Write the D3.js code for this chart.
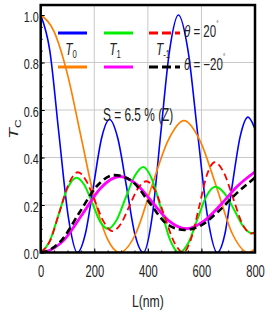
<!DOCTYPE html>
<html>
<head>
<meta charset="utf-8">
<script src="https://cdn.jsdelivr.net/npm/d3@7"></script>
<style>
  body { margin: 0; background: #fff; }
  svg { display: block; font-family: "Liberation Sans", Arial, sans-serif; }
</style>
</head>
<body>
<div id="chart"></div>
<script>
// tick values and labels
const xTicks = [0, 200, 400, 600, 800];
const xTickLabels = ["0", "200", "400", "600", "800"];
const yTicks = [0, 0.2, 0.4, 0.6, 0.8, 1.0];
const yTickLabels = ["0.0", "0.2", "0.4", "0.6", "0.8", "1.0"];
const xGrid = [200, 400, 600];
const yGrid = [0.2, 0.4, 0.6, 0.8];

// theta = 20 deg
const t0Pos = [[0,1.0],[34,0.85],[68,0.5],[103,0.15],[137,0],[167,0.08],[197,0.28],[227,0.48],[257,0.56],[288,0.48],[320,0.28],[351,0.08],[383,0],[416,0.15],[448,0.5],[481,0.85],[514,1.0],[550,0.85],[586,0.5],[623,0.15],[659,0],[688,0.08],[716,0.29],[745,0.49],[774,0.57],[800,0.52]];
const t1Pos = [[0,0],[33,0.046],[66,0.157],[100,0.27],[133,0.315],[163,0.284],[192,0.21],[222,0.13],[251,0.10],[284,0.138],[317,0.23],[350,0.32],[383,0.36],[416,0.307],[450,0.18],[483,0.053],[517,0],[551,0.04],[585,0.14],[618,0.236],[652,0.277],[687,0.248],[722,0.18],[756,0.11],[791,0.08],[800,0.082]];
const tm1Pos = [[0,0],[35,0.05],[70,0.17],[105,0.29],[139,0.338],[171,0.30],[203,0.215],[235,0.13],[267,0.09],[299,0.12],[331,0.195],[363,0.27],[395,0.30],[429,0.256],[463,0.15],[498,0.044],[532,0],[561,0.056],[591,0.19],[620,0.325],[650,0.38],[684,0.336],[718,0.23],[751,0.125],[785,0.08],[800,0.085]];

// theta = -20 deg
const t0Neg = [[0,1.0],[50,0.93],[100,0.75],[150,0.49],[200,0.23],[250,0.055],[295,0],[355,0.08],[415,0.28],[475,0.47],[535,0.555],[595,0.47],[655,0.28],[715,0.08],[775,0],[800,0.015]];
const t1Neg = [[0,0],[20,0.004],[85,0.05],[155,0.16],[225,0.273],[295,0.32],[357,0.288],[418,0.21],[480,0.132],[542,0.10],[606,0.13],[671,0.2],[735,0.28],[800,0.34]];
const tm1Neg = [[0,0],[15,0.003],[77,0.05],[143,0.165],[210,0.28],[276,0.326],[341,0.30],[406,0.21],[471,0.12],[536,0.095],[600,0.115],[665,0.175],[732,0.25],[800,0.315]];

const series = [
  { data: t0Pos, color: "#0000ff", width: 1.6, dash: null },
  { data: t0Neg, color: "#ff8000", width: 1.7, dash: null },
  { data: t1Pos, color: "#00ee00", width: 2, dash: null },
  { data: t1Neg, color: "#ff00ff", width: 2.8, dash: null },
  { data: tm1Pos, color: "#ff0000", width: 1.8, dash: "7,4" },
  { data: tm1Neg, color: "#000000", width: 2.6, dash: "7,4" },
];

const W = 272, H = 314;
const svg = d3.select("#chart").append("svg").attr("width", W).attr("height", H);
svg.append("rect").attr("width", W).attr("height", H).attr("fill", "#fff");

const x = d3.scaleLinear().domain([0, 800]).range([40.7, 255]);
const y = d3.scaleLinear().domain([0, 1]).range([252.5, 15]);
const frameTop = y(1.042);

// grid
svg.append("g").selectAll("line").data(xGrid).enter().append("line")
  .attr("x1", d => x(d)).attr("x2", d => x(d)).attr("y1", y(0)).attr("y2", frameTop)
  .attr("stroke", "#c8c8c8").attr("stroke-width", 1);
svg.append("g").selectAll("line").data(yGrid).enter().append("line")
  .attr("x1", x(0)).attr("x2", x(800)).attr("y1", d => y(d)).attr("y2", d => y(d))
  .attr("stroke", "#c8c8c8").attr("stroke-width", 1);

// clip to frame
svg.append("clipPath").attr("id", "plot-clip").append("rect")
  .attr("x", x(0)).attr("y", frameTop).attr("width", x(800) - x(0)).attr("height", y(0) - frameTop);

const line = d3.line().x(d => x(d[0])).y(d => y(d[1])).curve(d3.curveMonotoneX);
const curves = svg.append("g").attr("clip-path", "url(#plot-clip)");
series.forEach(s => {
  curves.append("path").attr("d", line(s.data)).attr("fill", "none")
    .attr("stroke", s.color).attr("stroke-width", s.width)
    .attr("stroke-dasharray", s.dash);
});

// axes (inward ticks)
const xAxis = svg.append("g").attr("transform", `translate(0,${y(0)})`)
  .call(d3.axisBottom(x).tickValues(xTicks).tickFormat((d, i) => xTickLabels[i]).tickSize(-4));
xAxis.select(".domain").remove();
xAxis.selectAll(".tick text").attr("y", null).attr("dy", null)
  .attr("transform", "translate(0,24) scale(0.7,1)")
  .attr("font-size", 16).attr("font-family", "Liberation Sans, Arial, sans-serif").attr("fill", "#222");
svg.append("g").attr("transform", `translate(0,${y(0)})`)
  .call(d3.axisBottom(x).tickValues(d3.range(0, 801, 50)).tickFormat("").tickSize(-2))
  .select(".domain").remove();

const yAxis = svg.append("g").attr("transform", `translate(${x(0)},0)`)
  .call(d3.axisLeft(y).tickValues(yTicks).tickFormat((d, i) => yTickLabels[i]).tickSize(-4));
yAxis.select(".domain").remove();
yAxis.selectAll(".tick text").attr("x", null).attr("dy", null)
  .attr("transform", "translate(-2,6) scale(0.72,1)")
  .attr("font-size", 15).attr("font-family", "Liberation Sans, Arial, sans-serif").attr("fill", "#222");
svg.append("g").attr("transform", `translate(${x(0)},0)`)
  .call(d3.axisLeft(y).tickValues(d3.range(0, 1.01, 0.05)).tickFormat("").tickSize(-2))
  .select(".domain").remove();

// frame
svg.append("rect").attr("x", x(0)).attr("y", frameTop)
  .attr("width", x(800) - x(0)).attr("height", y(0) - frameTop)
  .attr("fill", "none").attr("stroke", "#000").attr("stroke-width", 2.5);

// axis titles
svg.append("text").attr("transform", `translate(${x(400)},307) scale(0.72,1)`)
  .attr("text-anchor", "middle").attr("font-size", 17).attr("fill", "#222").text("L(nm)");

const yt = svg.append("text").attr("transform", "translate(18,139) rotate(-90) scale(1,0.75)")
  .attr("font-size", 18).attr("fill", "#222");
yt.append("tspan").attr("font-style", "italic").text("T");
yt.append("tspan").attr("font-size", 12).attr("dy", 4).text("C");

// legend
const legendRows = [
  { y: 33, items: [series[0], series[2], series[4]] },
  { y: 67, items: [series[1], series[3], series[5]] },
];
const legendX = [[58, 87], [104, 133], [149, 180]];
legendRows.forEach(row => {
  row.items.forEach((s, i) => {
    svg.append("line").attr("x1", legendX[i][0]).attr("x2", legendX[i][1])
      .attr("y1", row.y).attr("y2", row.y)
      .attr("stroke", s.color).attr("stroke-width", 3)
      .attr("stroke-dasharray", s.dash ? "9,4" : null);
  });
});

const legendNames = [["0", 71], ["1", 115], ["-1", 163]];
legendNames.forEach(([sub, cx]) => {
  const t = svg.append("text").attr("transform", `translate(${cx},55) scale(0.7,1)`)
    .attr("text-anchor", "middle").attr("font-size", 17).attr("fill", "#222");
  t.append("tspan").attr("font-style", "italic").text("T");
  t.append("tspan").attr("font-size", 11).attr("dy", 3).text(sub);
});

const thetaLabels = [["20", 37], ["\u221220", 70]];
thetaLabels.forEach(([v, by]) => {
  const t = svg.append("text").attr("transform", `translate(184,${by}) scale(0.72,1)`)
    .attr("font-size", 16).attr("fill", "#222");
  t.append("tspan").attr("font-style", "italic").text("\u03b8");
  t.append("tspan").text(" = " + v);
  t.append("tspan").attr("font-size", 8).attr("dy", -11).text("\u00b0");
});

// annotation
svg.append("text").attr("transform", "translate(103,121) scale(0.66,1)")
  .attr("font-size", 18).attr("fill", "#222").text("S = 6.5 % (Z)");
</script>
</body>
</html>
